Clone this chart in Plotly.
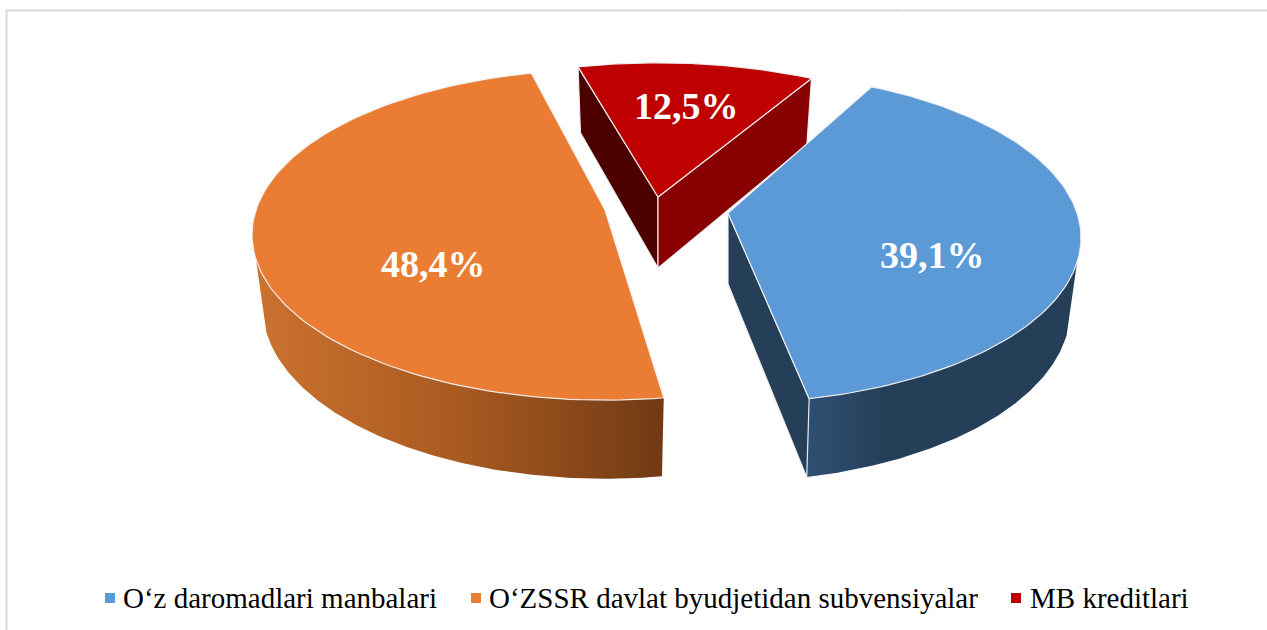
import numpy as np
import plotly.graph_objects as go

# Data
categories = ["O‘z daromadlari manbalari", "O‘ZSSR davlat byudjetidan subvensiyalar", "MB kreditlari"]
shares = [39.1, 48.4, 12.5]
top_colors = ["#5B9AD6", "#EA7D33", "#BE0000"]
cut_colors = ["#243F57", "#733C14", "#880000"]
red_dark = "#4D0000"
blue_wall = [[0, "#2F4F73"], [0.3, "#243F57"], [1, "#243F57"]]
orange_wall = [[0, "#CC7230"], [0.5, "#A85A20"], [1, "#703A14"]]
first_angle = 29.0

# Layout of the picture (pixels)
W, H = 1267, 630
apexes = [(728, 213), (605, 210), (658, 197)]
turn = [-1.2, 2.0, 0.8]
g_scale = [1.0, 1.0, 0.955]
F, G, K = 349.0, 161.6, 0.15
DEPTH, SX, SY = 71.0, 0.97, 1.04
label_xy = [(932, 255), (433, 264), (686, 106)]
legend_marks = [(110, 598), (476, 598), (1016, 598)]
legend_text_x = [124, 490, 1031]
tick_x = [519, 645, 771, 897, 1023, 1149]
EDGE = "rgba(240,240,240,0.95)"


def rim(i, deg0, deg1, bottom=False, n=120):
    apex = apexes[i]
    g = G * g_scale[i]
    t = np.radians(np.linspace(deg0, deg1, n))
    X, Y = np.sin(t), np.cos(t)
    dx = F * X / (1 + K * Y)
    dy = -g * Y / (1 + K * Y)
    if bottom:
        return apex[0] + SX * dx, apex[1] + DEPTH + SY * dy
    return apex[0] + dx, apex[1] + dy


def poly(x, y, color):
    return go.Scatter(x=list(x), y=list(y), mode="lines", fill="toself", fillcolor=color,
                      line=dict(color=EDGE, width=1.2), hoverinfo="skip", showlegend=False)


def wall(i, d0, d1, scale):
    x1, y1 = rim(i, d0, d1)
    x2, y2 = rim(i, d1, d0, bottom=True)
    return go.Scatter(x=list(x1) + list(x2) + [x1[0]], y=list(y1) + list(y2) + [y1[0]], mode="lines",
                      fill="toself", line=dict(width=0), hoverinfo="skip", showlegend=False,
                      fillgradient=dict(type="horizontal", colorscale=scale))


def cut(i, ang, color):
    a = apexes[i]
    xe, ye = rim(i, ang, ang, n=1)
    xb, yb = rim(i, ang, ang, bottom=True, n=1)
    return poly([a[0], xe[0], xb[0], a[0], a[0]], [a[1], ye[0], yb[0], a[1] + DEPTH, a[1]], color)


# angles from the shares
bounds = [first_angle]
for s in shares:
    bounds.append(bounds[-1] + s * 3.6)
spans = [(bounds[i] + turn[i], bounds[i + 1] + turn[i]) for i in range(3)]

fig = go.Figure()
fig.add_trace(wall(0, 107, spans[0][1], blue_wall))
fig.add_trace(cut(0, spans[0][1], cut_colors[0]))
fig.add_trace(wall(1, spans[1][0], 253, orange_wall))
fig.add_trace(cut(2, spans[2][0], red_dark))
fig.add_trace(cut(2, spans[2][1], cut_colors[2]))

for i in range(3):
    a = apexes[i]
    x, y = rim(i, *spans[i])
    fig.add_trace(poly([a[0], *x, a[0]], [a[1], *y, a[1]], top_colors[i]))

# data labels
for (lx, ly), s in zip(label_xy, shares):
    fig.add_annotation(x=lx, y=ly, text=f"<b>{s:.1f}%</b>".replace(".", ","), showarrow=False,
                       font=dict(family="Liberation Serif", size=38, color="white"))

# legend
for (mx, my), tx, name, col in zip(legend_marks, legend_text_x, categories, top_colors):
    fig.add_trace(go.Scatter(x=[mx], y=[my], mode="markers", hoverinfo="skip", showlegend=False,
                             marker=dict(symbol="square", size=10, color=col)))
    fig.add_annotation(x=tx, y=my, text=name, showarrow=False, xanchor="left", xshift=-3,
                       font=dict(family="Liberation Serif", size=29, color="black"))

# frame of the pasted sheet
shapes = [
    dict(type="line", x0=6, x1=W, y0=10.5, y1=10.5, line=dict(color="#DADADA", width=2)),
    dict(type="line", x0=6.5, x1=6.5, y0=10, y1=H, line=dict(color="#DADADA", width=2)),
]
for t in tick_x:
    shapes.append(dict(type="line", x0=t, x1=t, y0=7, y1=10, line=dict(color="#E4E4E4", width=1)))

fig.update_layout(width=W, height=H, margin=dict(l=0, r=0, t=0, b=0), paper_bgcolor="white",
                  plot_bgcolor="white", showlegend=False, shapes=shapes,
                  xaxis=dict(range=[0, W], visible=False, fixedrange=True),
                  yaxis=dict(range=[H, 0], visible=False, fixedrange=True))
fig.write_html("out.html", config=dict(displayModeBar=False),
               post_script="document.body.style.margin='0';document.documentElement.style.overflow='hidden';")
